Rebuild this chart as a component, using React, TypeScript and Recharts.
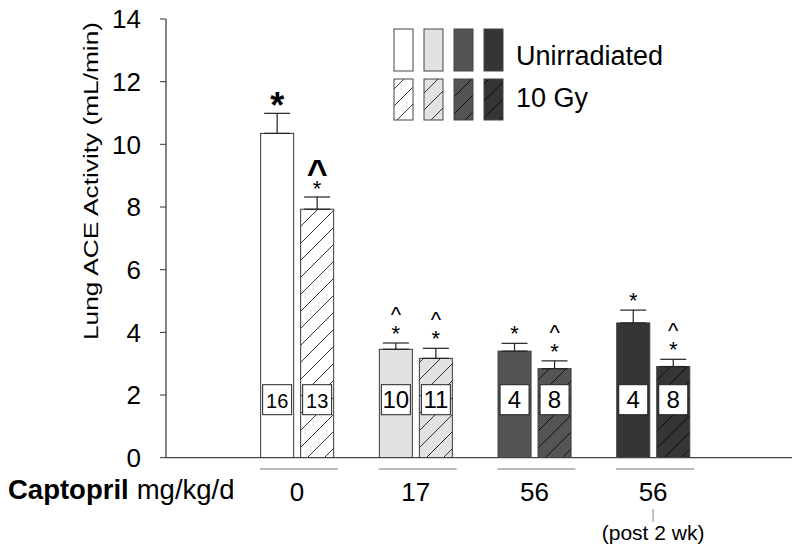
import React from 'react';
import { BarChart, Bar, XAxis, YAxis, ErrorBar, Legend } from 'recharts';

const groupKeys = ['g0', 'g17', 'g56', 'g56post'];
const doses = ['0', '17', '56', '56'];
const doseNotes = ['', '', '', '(post 2 wk)'];
const unirradiated = [10.35, 3.46, 3.4, 4.3];
const unirradiatedErr = [0.64, 0.2, 0.25, 0.41];
const irradiated = [7.93, 3.17, 2.84, 2.91];
const irradiatedErr = [0.39, 0.32, 0.25, 0.23];
const unirradiatedN = [16, 10, 4, 4];
const irradiatedN = [13, 11, 8, 8];
const unirradiatedCaret = ['', 'small', '', ''];
const unirradiatedStar = ['big', 'small', 'small', 'small'];
const irradiatedCaret = ['big', 'small', 'small', 'small'];
const irradiatedStar = ['small', 'small', 'small', 'small'];
const yTicks = [0, 2, 4, 6, 8, 10, 12, 14];
const seriesNames = ['Unirradiated', '10 Gy'];
const yLabel = 'Lung ACE Activity (mL/min)';
const xLabelBold = 'Captopril';
const xLabelUnit = 'mg/kg/d';

const groupColors = ['#ffffff', '#e2e2e2', '#545454', '#353535'];
const FONT = '"Liberation Sans", Arial, sans-serif';

const data = groupKeys.map((k, i) => ({
  key: k,
  u: unirradiated[i],
  uErr: [0, unirradiatedErr[i]],
  r: irradiated[i],
  rErr: [0, irradiatedErr[i]],
}));

const makeShape = (series: 'u' | 'r') => (props: any) => {
  const { x, y, width, height, index, payload } = props;
  const val = series === 'u' ? payload.u : payload.r;
  const err = series === 'u' ? unirradiatedErr[index] : irradiatedErr[index];
  const pxPerUnit = height / val;
  const errTop = y - err * pxPerUnit;
  const cx = x + width / 2;
  const bottom = y + height;
  const fill = series === 'u' ? groupColors[index] : `url(#hatch${index})`;
  const n = series === 'u' ? unirradiatedN[index] : irradiatedN[index];
  const caret = series === 'u' ? unirradiatedCaret[index] : irradiatedCaret[index];
  const star = series === 'u' ? unirradiatedStar[index] : irradiatedStar[index];
  const nFont = index === 0 ? 20 : 24;
  return (
    <g>
      <rect x={x} y={y} width={width} height={height} fill={fill} stroke="#3a3a3a" strokeWidth={1} />
      <rect x={cx - 14.5} y={bottom - 73} width={29} height={30} fill="#fff" stroke="#222" strokeWidth={1} />
      <text x={cx} y={bottom - 50} textAnchor="middle" fontSize={nFont} fontFamily={FONT} fill="#000">
        {n}
      </text>
      <text textAnchor="middle" fontFamily={FONT} fill="#000">
        {caret === 'big' && (
          <tspan x={cx} y={errTop - 12} fontSize={36} fontWeight="bold">^</tspan>
        )}
        {caret === 'small' && (
          <tspan x={cx} y={errTop - 21} fontSize={22}>^</tspan>
        )}
        {star === 'big' && (
          <tspan x={cx} y={errTop + 5} fontSize={36} fontWeight="bold">*</tspan>
        )}
        {star === 'small' && (
          <tspan x={cx} y={errTop - (caret === 'big' ? 1 : 2)} fontSize={22}>*</tspan>
        )}
      </text>
    </g>
  );
};

const XTick = (props: any) => {
  const { x, payload, index } = props;
  const i = typeof index === 'number' ? index : groupKeys.indexOf(payload.value);
  return (
    <g>
      <line x1={x - 37} x2={x + 41} y1={469} y2={469} stroke="#777" strokeWidth={1.2} />
      <text x={x} y={501} textAnchor="middle" fontSize={26} fontFamily={FONT} fill="#000">
        {doses[i]}
      </text>
      {doseNotes[i] && (
        <g>
          <line x1={x} x2={x} y1={509} y2={522} stroke="#888" strokeWidth={1} />
          <text x={x} y={540} textAnchor="middle" fontSize={21} fontFamily={FONT} fill="#000">
            {doseNotes[i]}
          </text>
        </g>
      )}
    </g>
  );
};

const YLabel = () => (
  <text
    x={98}
    y={181}
    transform="rotate(-90 98 181)"
    textAnchor="middle"
    fontSize={21}
    fontFamily={FONT}
    fill="#000"
    textLength={318}
    lengthAdjust="spacingAndGlyphs"
  >
    {yLabel}
  </text>
);

const XLabel = () => (
  <text x={8} y={499} fontSize={27.5} fontFamily={FONT} fill="#000">
    <tspan fontWeight="bold">{xLabelBold}</tspan>
    <tspan dx={8}>{xLabelUnit}</tspan>
  </text>
);

const LegendContent = () => (
  <svg width={300} height={110} style={{ display: 'block' }}>
    {groupColors.map((c, i) => (
      <rect key={`u${i}`} x={4 + 30 * i} y={4} width={19} height={42} fill={c} stroke="#444" strokeWidth={1} />
    ))}
    {groupColors.map((c, i) => (
      <rect key={`r${i}`} x={4 + 30 * i} y={54} width={19} height={41} fill={`url(#hatch${i})`} stroke="#444" strokeWidth={1} />
    ))}
    <text x={126} y={40} fontSize={27} fontFamily={FONT} fill="#000">{seriesNames[0]}</text>
    <text x={126} y={82} fontSize={27} fontFamily={FONT} fill="#000">{seriesNames[1]}</text>
  </svg>
);

export default function App() {
  return (
    <div style={{ position: 'relative', width: 800, height: 552, margin: -8, background: '#fff' }}>
      <svg width={0} height={0} style={{ position: 'absolute' }}>
        <defs>
          {groupColors.map((c, i) => (
            <pattern key={i} id={`hatch${i}`} patternUnits="userSpaceOnUse" width={17} height={17}>
              <rect x={0} y={0} width={17} height={17} fill={c} />
              <path d="M0,17 L17,0 M-3,3 L3,-3 M14,20 L20,14" stroke="#000" strokeWidth={0.8} />
            </pattern>
          ))}
        </defs>
      </svg>
      <BarChart
        width={800}
        height={552}
        data={data}
        margin={{ top: 19, right: 8, bottom: 14.3, left: 0 }}
        barSize={33}
        barGap={7}
      >
        <XAxis
          dataKey="key"
          height={80}
          padding={{ left: 71.65, right: 79.55 }}
          axisLine={{ stroke: '#444', strokeWidth: 1.2 }}
          tickLine={false}
          tick={<XTick />}
          interval={0}
          label={<XLabel />}
        />
        <YAxis
          width={166}
          domain={[0, 14]}
          ticks={yTicks}
          allowDataOverflow
          axisLine={{ stroke: '#333', strokeWidth: 1.2 }}
          tickLine={{ stroke: '#333' }}
          tickSize={6}
          tickMargin={19}
          tick={{ fontSize: 26, fill: '#000', fontFamily: FONT }}
          label={<YLabel />}
        />
        <Legend
          content={<LegendContent />}
          layout="vertical"
          align="center"
          verticalAlign="middle"
          wrapperStyle={{ left: 390, top: 25, width: 300, height: 110 }}
        />
        <Bar dataKey="u" name={seriesNames[0]} shape={makeShape('u')} isAnimationActive={false}>
          <ErrorBar dataKey="uErr" width={13} stroke="#222" strokeWidth={1.2} direction="y" isAnimationActive={false} />
        </Bar>
        <Bar dataKey="r" name={seriesNames[1]} shape={makeShape('r')} isAnimationActive={false}>
          <ErrorBar dataKey="rErr" width={13} stroke="#222" strokeWidth={1.2} direction="y" isAnimationActive={false} />
        </Bar>
      </BarChart>
    </div>
  );
}
